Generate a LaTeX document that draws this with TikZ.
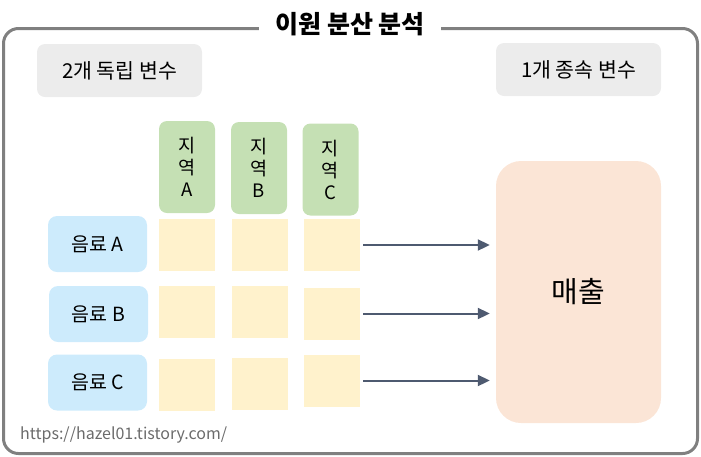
\documentclass[tikz,border=0pt]{standalone}
\usepackage{fontspec}
\setmainfont{Noto Sans CJK KR}
\usetikzlibrary{arrows.meta, positioning}
\definecolor{framegray}{HTML}{808080}
\definecolor{boxgray}{HTML}{ECECEC}
\definecolor{regiongreen}{HTML}{C5E0B4}
\definecolor{drinkblue}{HTML}{CDEBFC}
\definecolor{cellyellow}{HTML}{FFF2CC}
\definecolor{salespeach}{HTML}{FBE5D6}
\definecolor{arrowslate}{HTML}{4E5A70}
\tikzstyle{frame} = [draw=framegray, line width=3pt, rounded corners=15pt, minimum width=694pt, minimum height=425pt]
\tikzstyle{title} = [fill=white, inner xsep=16pt, inner ysep=2pt, font=\fontsize{25}{28}\selectfont\bfseries]
\tikzstyle{vartype} = [fill=boxgray, rounded corners=8pt, minimum width=165pt, minimum height=53pt, font=\fontsize{20.5}{24}\selectfont]
\tikzstyle{region} = [fill=regiongreen, rounded corners=8pt, minimum width=56pt, minimum height=92pt, align=center, font=\fontsize{18.5}{22}\selectfont]
\tikzstyle{drink} = [fill=drinkblue, rounded corners=9pt, minimum width=99pt, minimum height=56pt, font=\fontsize{19.5}{22}\selectfont]
\tikzstyle{cell} = [fill=cellyellow, minimum width=56pt, minimum height=52pt]
\tikzstyle{sales} = [fill=salespeach, rounded corners=25pt, minimum width=165pt, minimum height=262pt, font=\fontsize{29}{32}\selectfont]
\tikzstyle{flow} = [-{Triangle[length=12pt, width=11pt]}, line width=2pt, draw=arrowslate, shorten <=3pt, shorten >=6pt]

\begin{document}
\begin{tikzpicture}[x=1pt, y=-1pt]
  \useasboundingbox (0,0) rectangle (701,456);

  % 틀
  \node[frame] (frame) at (350.5,241) {};
  \node[title] (anova) at (350,24) {이원 분산 분석};

  % 변수 종류
  \node[vartype] (indep) at (119.5,70.5) {2개 독립 변수};
  \node[vartype] (dep) at (578.5,69.5) {1개 종속 변수};

  % 지역
  \node[region] (rA) at (187,167) {지\\역\\A};
  \node[region] (rB) at (259,168) {지\\역\\B};
  \node[region] (rC) at (330.5,169.5) {지\\역\\C};

  % 음료
  \node[drink] (dA) at (97.5,244) {음료 A};
  \node[drink] (dB) at (98.5,314) {음료 B};
  \node[drink] (dC) at (97.5,382.5) {음료 C};

  % 칸
  \node[cell] (cAA) at (187,245) {};
  \node[cell] (cAB) at (260,245) {};
  \node[cell] (cAC) at (332,245) {};
  \node[cell] (cBA) at (187,311.5) {};
  \node[cell] (cBB) at (260,311.5) {};
  \node[cell] (cBC) at (332,313.5) {};
  \node[cell] (cCA) at (187,384.5) {};
  \node[cell] (cCB) at (260,383.5) {};
  \node[cell] (cCC) at (332,380.5) {};

  % 종속 변수
  \node[sales] (sales) at (578.5,292) {매출};

  % 화살표
  \draw[flow] (cAC.east) -- (sales.west |- cAC.east);
  \draw[flow] (cBC.east) -- (sales.west |- cBC.east);
  \draw[flow] (cCC.east) -- (sales.west |- cCC.east);

  % 출처
  \node[anchor=west, text=black!58, font=\fontsize{16}{18}\selectfont, inner sep=0pt] (source) at (20,435) {https://hazel01.tistory.com/};
\end{tikzpicture}
\end{document}
